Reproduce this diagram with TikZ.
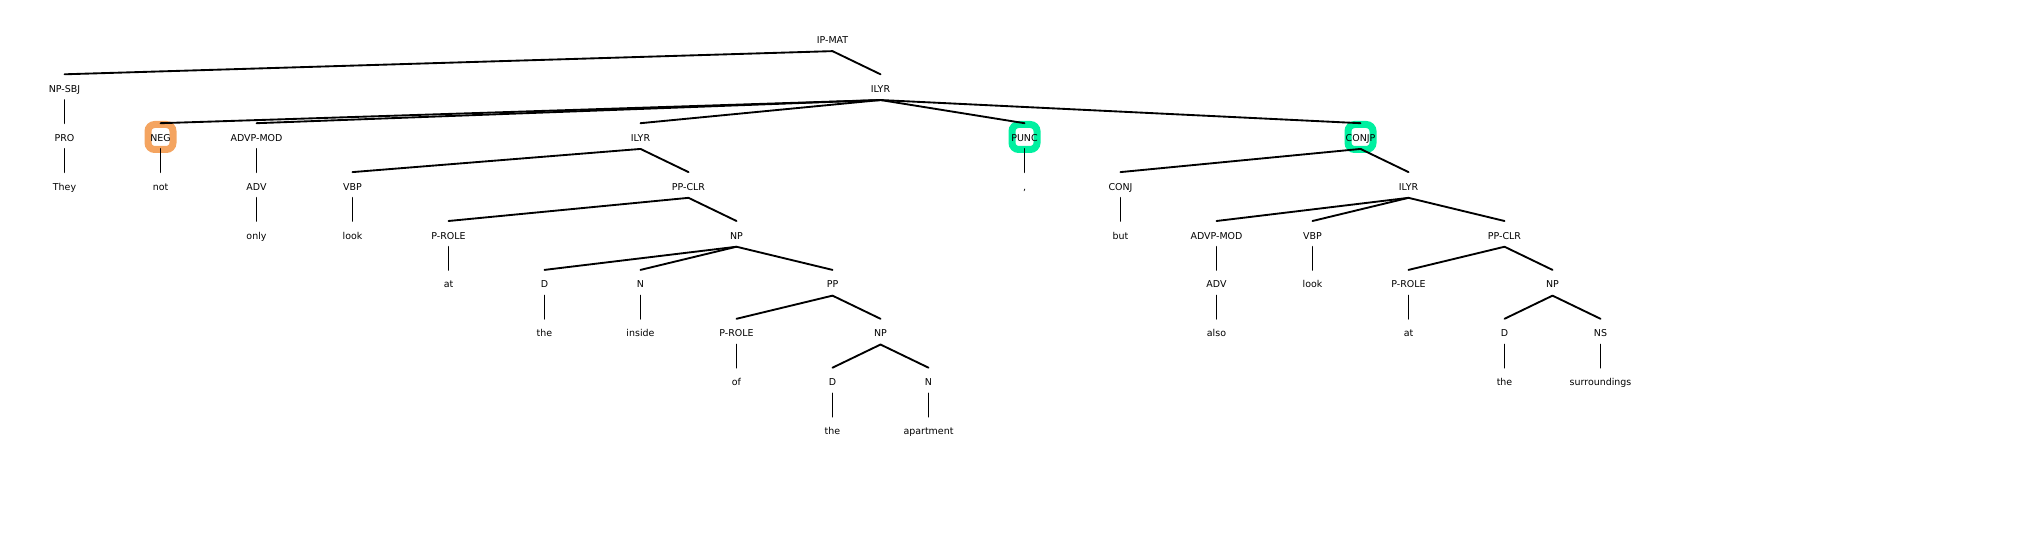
\documentclass[tikz,border=0pt]{standalone}
\usepackage{fontspec}
\setmainfont{DejaVu Sans}
\definecolor{hlorange}{HTML}{F4A460}
\definecolor{hlgreen}{HTML}{00F0A0}
\begin{document}
\begin{tikzpicture}[x=0.75pt,y=-0.75pt,
  lab/.style={inner sep=0pt,anchor=base,font=\fontsize{7.1}{8}\selectfont},
  hl/.style={draw=#1,line width=5.25pt,rounded corners=5pt,minimum size=18.75pt,inner sep=0pt},
  edgeline/.style={line width=1.4pt,line cap=round}]
\useasboundingbox (0,0) rectangle (2040,549);
\def\X#1{64.5+96*#1}
\def\Y#1{43.4+48.9*#1}
\def\H#1{39.2+48.9*#1}
% highlights
\node[hl=hlorange] (hlneg) at ({\X{1}},{\H{2}}) {};
\node[hl=hlgreen] (hlpunc) at ({\X{10}},{\H{2}}) {};
\node[hl=hlgreen] (hlconjp) at ({\X{13.5}},{\H{2}}) {};
% level 0
\node[lab] (ipmat) at ({\X{8}},{\Y{0}}) {IP-MAT};
% level 1
\node[lab] (npsbj) at ({\X{0}},{\Y{1}}) {NP-SBJ};
\node[lab] (ilyr1) at ({\X{8.5}},{\Y{1}}) {ILYR};
% level 2
\node[lab] (pro) at ({\X{0}},{\Y{2}}) {PRO};
\node[lab] (neg) at ({\X{1}},{\Y{2}}) {NEG};
\node[lab] (advpmod1) at ({\X{2}},{\Y{2}}) {ADVP-MOD};
\node[lab] (ilyr2) at ({\X{6}},{\Y{2}}) {ILYR};
\node[lab] (punc) at ({\X{10}},{\Y{2}}) {PUNC};
\node[lab] (conjp) at ({\X{13.5}},{\Y{2}}) {CONJP};
% level 3
\node[lab] (they) at ({\X{0}},{\Y{3}}) {They};
\node[lab] (not) at ({\X{1}},{\Y{3}}) {not};
\node[lab] (adv1) at ({\X{2}},{\Y{3}}) {ADV};
\node[lab] (vbp1) at ({\X{3}},{\Y{3}}) {VBP};
\node[lab] (ppclr1) at ({\X{6.5}},{\Y{3}}) {PP-CLR};
\node[lab] (comma) at ({\X{10}},{\Y{3}}) {,};
\node[lab] (conj) at ({\X{11}},{\Y{3}}) {CONJ};
\node[lab] (ilyr3) at ({\X{14}},{\Y{3}}) {ILYR};
% level 4
\node[lab] (only) at ({\X{2}},{\Y{4}}) {only};
\node[lab] (look1) at ({\X{3}},{\Y{4}}) {look};
\node[lab] (prole1) at ({\X{4}},{\Y{4}}) {P-ROLE};
\node[lab] (np1) at ({\X{7}},{\Y{4}}) {NP};
\node[lab] (but) at ({\X{11}},{\Y{4}}) {but};
\node[lab] (advpmod2) at ({\X{12}},{\Y{4}}) {ADVP-MOD};
\node[lab] (vbp2) at ({\X{13}},{\Y{4}}) {VBP};
\node[lab] (ppclr2) at ({\X{15}},{\Y{4}}) {PP-CLR};
% level 5
\node[lab] (at1) at ({\X{4}},{\Y{5}}) {at};
\node[lab] (d1) at ({\X{5}},{\Y{5}}) {D};
\node[lab] (n1) at ({\X{6}},{\Y{5}}) {N};
\node[lab] (pp) at ({\X{8}},{\Y{5}}) {PP};
\node[lab] (adv2) at ({\X{12}},{\Y{5}}) {ADV};
\node[lab] (look2) at ({\X{13}},{\Y{5}}) {look};
\node[lab] (prole3) at ({\X{14}},{\Y{5}}) {P-ROLE};
\node[lab] (np3) at ({\X{15.5}},{\Y{5}}) {NP};
% level 6
\node[lab] (the1) at ({\X{5}},{\Y{6}}) {the};
\node[lab] (inside) at ({\X{6}},{\Y{6}}) {inside};
\node[lab] (prole2) at ({\X{7}},{\Y{6}}) {P-ROLE};
\node[lab] (np2) at ({\X{8.5}},{\Y{6}}) {NP};
\node[lab] (also) at ({\X{12}},{\Y{6}}) {also};
\node[lab] (at2) at ({\X{14}},{\Y{6}}) {at};
\node[lab] (d3) at ({\X{15}},{\Y{6}}) {D};
\node[lab] (ns) at ({\X{16}},{\Y{6}}) {NS};
% level 7
\node[lab] (of) at ({\X{7}},{\Y{7}}) {of};
\node[lab] (d2) at ({\X{8}},{\Y{7}}) {D};
\node[lab] (n2) at ({\X{9}},{\Y{7}}) {N};
\node[lab] (the3) at ({\X{15}},{\Y{7}}) {the};
\node[lab] (surr) at ({\X{16}},{\Y{7}}) {surroundings};
% level 8
\node[lab] (the2) at ({\X{8}},{\Y{8}}) {the};
\node[lab] (apartment) at ({\X{9}},{\Y{8}}) {apartment};
% edges
\def\tedge#1#2{\draw[edgeline] ([yshift=-5.8pt]#1.base) -- ([yshift=13.5pt]#2.base);}
\foreach \p/\c in {ipmat/npsbj, ipmat/ilyr1, npsbj/pro,
  ilyr1/neg, ilyr1/advpmod1, ilyr1/ilyr2, ilyr1/punc, ilyr1/conjp,
  pro/they, neg/not, advpmod1/adv1, adv1/only,
  ilyr2/vbp1, ilyr2/ppclr1, vbp1/look1,
  ppclr1/prole1, ppclr1/np1, prole1/at1,
  np1/d1, np1/n1, np1/pp, d1/the1, n1/inside,
  pp/prole2, pp/np2, prole2/of, np2/d2, np2/n2, d2/the2, n2/apartment,
  punc/comma, conjp/conj, conjp/ilyr3, conj/but,
  ilyr3/advpmod2, ilyr3/vbp2, ilyr3/ppclr2,
  advpmod2/adv2, adv2/also, vbp2/look2,
  ppclr2/prole3, ppclr2/np3, prole3/at2,
  np3/d3, np3/ns, d3/the3, ns/surr}
  {\tedge{\p}{\c}}
\end{tikzpicture}
\end{document}
